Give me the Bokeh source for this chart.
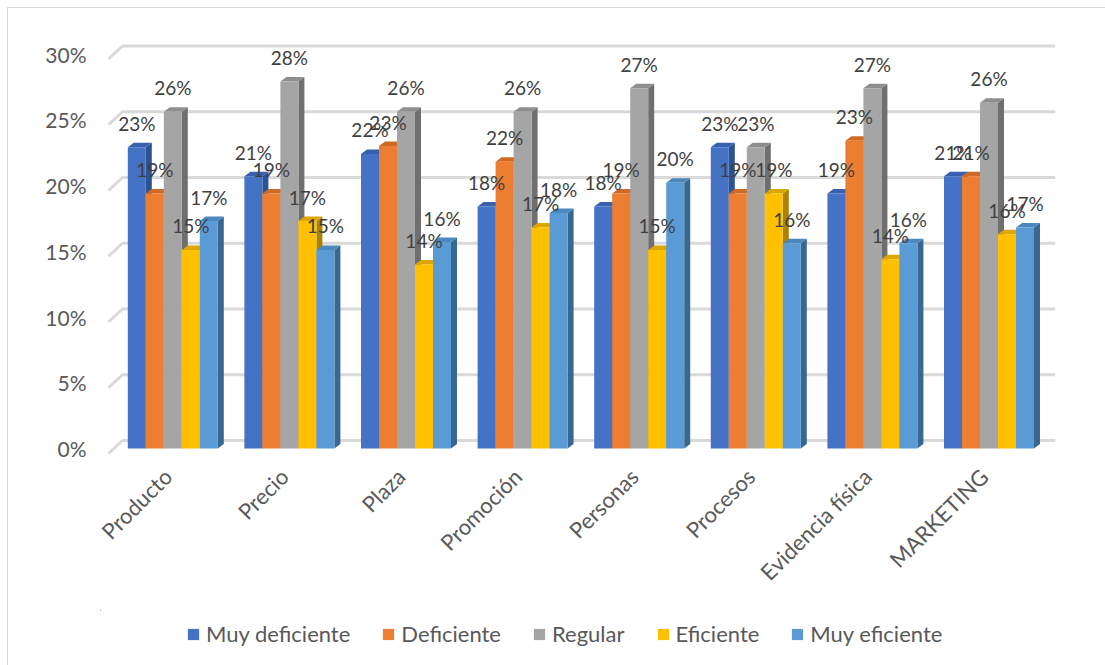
from bokeh.plotting import figure
from bokeh.models import (ColumnDataSource, Range1d, FixedTicker, PrintfTickFormatter,
                          Legend, LegendItem)
from bokeh.layouts import column
from bokeh.embed import file_html
from bokeh.resources import INLINE
from bokeh.core.properties import value
import math

# ---------------- data ----------------
categories = ["Producto", "Precio", "Plaza", "Promoción", "Personas",
              "Procesos", "Evidencia física", "MARKETING"]
series_names = ["Muy deficiente", "Deficiente", "Regular", "Eficiente", "Muy eficiente"]
muy_deficiente = [22.9, 20.7, 22.4, 18.4, 18.4, 22.9, 19.4, 20.7]
deficiente     = [19.4, 19.4, 23.0, 21.8, 19.4, 19.4, 23.4, 20.7]
regular        = [25.6, 27.9, 25.6, 25.6, 27.4, 22.9, 27.4, 26.3]
eficiente      = [15.1, 17.3, 14.0, 16.8, 15.1, 19.4, 14.4, 16.3]
muy_eficiente  = [17.3, 15.1, 15.7, 17.9, 20.2, 15.6, 15.6, 16.8]
series_values = [muy_deficiente, deficiente, regular, eficiente, muy_eficiente]
y_ticks = [0, 5, 10, 15, 20, 25, 30]

# ---------------- style ----------------
front_colors = ["#4472C4", "#ED7D31", "#A5A5A5", "#FFC000", "#5B9BD5"]
top_colors   = ["#3761AE", "#CF6A24", "#8E8E8E", "#DDA600", "#4C88BE"]
side_colors  = ["#2E5190", "#AE561B", "#6F6F6F", "#AD8200", "#3A6790"]
FONT = "Lato"

PX_X = 116.6   # px per category
PX_Y = 13.15   # px per percentage point
BAR_W = 18 / PX_X
DX = 6 / PX_X          # bar depth offset (x)
DY = 4.5 / PX_Y        # bar depth offset (y)
BACK_DX, BACK_DY = 8 / PX_X, 8 / PX_Y      # back wall offset
FRONT_DX, FRONT_DY = -6 / PX_X, -5 / PX_Y  # front edge offset
LABEL_DY = 24 / PX_Y
CAT_LABEL_SHIFT = -5 / PX_X

n_cat = len(categories)
n_ser = len(series_names)

p = figure(width=1097, height=602,
           x_range=Range1d(-14 / PX_X, (1065 - 114) / PX_X),
           y_range=Range1d(-10 / PX_Y, 410 / PX_Y),
           output_backend="svg", toolbar_location=None,
           min_border_left=92, min_border_right=40,
           min_border_top=30, min_border_bottom=152)
p.outline_line_color = None
p.xgrid.visible = False
p.ygrid.visible = False
p.background_fill_color = "white"
p.border_fill_color = "white"

# back wall gridlines + left wall diagonals
gx, gy = [], []
for t in y_ticks:
    gx.append([FRONT_DX, BACK_DX, n_cat + BACK_DX])
    gy.append([t + FRONT_DY, t + BACK_DY, t + BACK_DY])
p.multi_line(xs=gx, ys=gy, line_color="#D9D9D9", line_width=3)

# bars
for s in range(n_ser):
    vals = series_values[s]
    x0 = [i + 0.5 + (s - 2.5) * BAR_W for i in range(n_cat)]
    x1 = [a + BAR_W for a in x0]
    side_xs = [[b, b + DX, b + DX, b] for b in x1]
    side_ys = [[0, DY, v + DY, v] for v in vals]
    top_xs = [[a, b, b + DX, a + DX] for a, b in zip(x0, x1)]
    top_ys = [[v, v, v + DY, v + DY] for v in vals]
    p.patches(xs=side_xs, ys=side_ys, fill_color=side_colors[s], line_color=None)
    p.patches(xs=top_xs, ys=top_ys, fill_color=top_colors[s], line_color=None)
    src = ColumnDataSource(dict(x=[a + BAR_W / 2 for a in x0], top=vals))
    p.vbar(x="x", top="top", bottom=0, width=BAR_W, source=src,
           fill_color=front_colors[s], line_color=None)

# data labels
for s in range(n_ser):
    vals = series_values[s]
    lx = [i + 0.5 + (s - 2.5) * BAR_W + BAR_W / 2 for i in range(n_cat)]
    ly = [v + LABEL_DY for v in vals]
    lt = ["%d%%" % int(round(v)) for v in vals]
    p.text(x=lx, y=ly, text=lt, text_font=value(FONT), text_font_size="19px",
           text_align="center", text_baseline="middle", text_color="#404040")

# axes
p.yaxis.ticker = FixedTicker(ticks=y_ticks)
p.yaxis.formatter = PrintfTickFormatter(format="%d%%")
p.yaxis.axis_line_color = None
p.yaxis.major_tick_line_color = None
p.yaxis.minor_tick_line_color = None
p.yaxis.major_label_standoff = 8
p.yaxis.major_label_text_font = FONT
p.yaxis.major_label_text_font_size = "21px"
p.yaxis.major_label_text_color = "#595959"

cat_ticks = [i + 0.5 + CAT_LABEL_SHIFT for i in range(n_cat)]
p.xaxis.ticker = FixedTicker(ticks=cat_ticks)
p.xaxis.major_label_overrides = {t: c for t, c in zip(cat_ticks, categories)}
p.xaxis.axis_line_color = None
p.xaxis.major_tick_line_color = None
p.xaxis.minor_tick_line_color = None
p.xaxis.major_label_orientation = math.pi / 4
p.xaxis.major_label_standoff = 8
p.xaxis.major_label_text_font = FONT
p.xaxis.major_label_text_font_size = "22px"
p.xaxis.major_label_text_color = "#595959"

# legend (separate strip below the chart); its proxy bars lie far outside the visible ranges
pl = figure(width=1097, height=55, x_range=Range1d(1000, 1001), y_range=Range1d(-1000, -999),
            output_backend="svg", toolbar_location=None,
            x_axis_location=None, y_axis_location=None,
            min_border_left=0, min_border_right=0, min_border_top=0, min_border_bottom=0)
pl.xgrid.visible = False
pl.ygrid.visible = False
pl.outline_line_color = None
pl.border_fill_color = "white"
pl.background_fill_color = "white"
leg_renderers = []
for s in range(n_ser):
    leg_renderers.append(pl.vbar(x=list(range(n_cat)), top=series_values[s], bottom=0,
                                 width=0.1, fill_color=front_colors[s], line_color=None))
legend = Legend(items=[LegendItem(label=n, renderers=[r])
                       for n, r in zip(series_names, leg_renderers)],
                orientation="horizontal", location=(86, 18),
                label_text_font=FONT, label_text_font_size="22px",
                label_text_color="#595959", glyph_width=14, glyph_height=14,
                label_standoff=6, spacing=31, border_line_color=None,
                background_fill_alpha=0, padding=0, margin=0)
pl.add_layout(legend, "center")

layout = column(p, pl, spacing=0,
                styles={"margin-left": "7px", "margin-top": "7px",
                        "border-left": "1px solid #d9d9d9",
                        "border-top": "1px solid #d9d9d9"})

open("out.html", "w").write(file_html(layout, INLINE))
